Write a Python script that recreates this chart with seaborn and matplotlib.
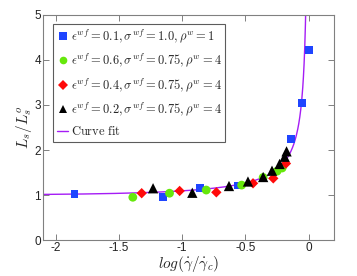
import numpy as np
import pandas as pd
import matplotlib
matplotlib.use("Agg")
import matplotlib.pyplot as plt
import seaborn as sns

# Data
blue_x = [-1.85, -1.15, -0.86, -0.56, -0.14, -0.053, 0.0]
blue_y = [1.02, 0.95, 1.16, 1.21, 2.24, 3.04, 4.22]
green_x = [-1.39, -1.10, -0.81, -0.53, -0.36, -0.25, -0.21]
green_y = [0.95, 1.04, 1.11, 1.22, 1.39, 1.53, 1.60]
red_x = [-1.32, -1.02, -0.73, -0.44, -0.28, -0.18]
red_y = [1.04, 1.09, 1.06, 1.26, 1.37, 1.70]
black_x = [-1.23, -0.92, -0.63, -0.48, -0.36, -0.29, -0.23, -0.19, -0.175]
black_y = [1.15, 1.05, 1.20, 1.30, 1.40, 1.54, 1.69, 1.85, 1.97]

labels = [
    r"$\epsilon^{wf}=0.1,\sigma^{wf}=1.0,\rho^{w}=1$",
    r"$\epsilon^{wf}=0.6,\sigma^{wf}=0.75,\rho^{w}=4$",
    r"$\epsilon^{wf}=0.4,\sigma^{wf}=0.75,\rho^{w}=4$",
    r"$\epsilon^{wf}=0.2,\sigma^{wf}=0.75,\rho^{w}=4$",
]
fit_label = r"$\mathrm{Curve\ fit}$"

# Curve fit parameters: L = 1 + A * (r/(1-r))**p, r = 10**x
fit_A = 0.475
fit_p = 0.745

sns.set_style("ticks")
plt.rcParams["mathtext.fontset"] = "cm"
plt.rcParams["font.family"] = ["Liberation Sans", "DejaVu Sans"]

fig = plt.figure(figsize=(3.57, 2.76), dpi=100)
ax = fig.add_axes([0.1204, 0.1304, 0.8152, 0.8153])

xf = np.linspace(-2.1, -0.005, 800)
r = 10 ** xf
yf = 1 + fit_A * (r / (1 - r)) ** fit_p
fit_df = pd.DataFrame({"x": xf, "y": yf})
sns.lineplot(data=fit_df, x="x", y="y", ax=ax, color="#a51cf5", lw=1.0,
             sort=False, estimator=None, zorder=2, legend=False)

series = [
    (blue_x, blue_y, "s", "#1f45ff", 30),
    (green_x, green_y, "o", "#66e80c", 40),
    (red_x, red_y, "D", "#ff0a0a", 28),
    (black_x, black_y, "^", "#000000", 55),
]
for (sx, sy, m, c, s), lab in zip(series, labels):
    df = pd.DataFrame({"x": sx, "y": sy})
    sns.scatterplot(data=df, x="x", y="y", ax=ax, marker=m, color=c, s=s,
                    edgecolor="none", linewidth=0, zorder=3, legend=False)

from matplotlib.lines import Line2D
handles = []
for (sx, sy, m, c, s), lab in zip(series, labels):
    handles.append(Line2D([], [], marker=m, color=c, linestyle="none",
                          markersize=5.5 if m != "D" else 5, markeredgewidth=0, label=lab))
handles.append(Line2D([], [], color="#a51cf5", lw=1.0, label=fit_label))

leg = ax.legend(handles=handles, loc="upper left", bbox_to_anchor=(0.035, 0.96),
                fontsize=9.0, frameon=True, fancybox=False, handlelength=0.9,
                handletextpad=0.2, labelspacing=0.55, borderpad=0.3,
                borderaxespad=0.0)
leg.get_frame().set_edgecolor("#333333")
leg.get_frame().set_linewidth(0.8)

ax.set_xlim(-2.1, 0.2)
ax.set_ylim(0, 5)
ax.set_xticks([-2, -1.5, -1, -0.5, 0])
ax.set_xticklabels(["-2", "-1.5", "-1", "-0.5", "0"])
ax.set_yticks([0, 1, 2, 3, 4, 5])
ax.tick_params(direction="in", top=True, right=True, length=4, width=0.7,
               colors="#808080", labelcolor="#222222", labelsize=8.5, pad=1.5)
for sp in ax.spines.values():
    sp.set_color("#808080")
    sp.set_linewidth(0.8)

ax.set_xlabel(r"$log(\dot{\gamma}/\dot{\gamma}_c)$", fontsize=11, labelpad=0)
ax.set_ylabel(r"$L_s/L_s^o$", fontsize=11, labelpad=0)

fig.savefig("out.png", dpi=100)
